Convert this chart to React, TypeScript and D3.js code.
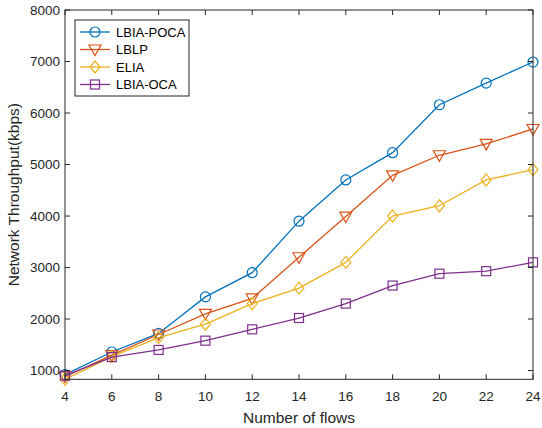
import React from "react";
import * as d3 from "d3";

const flows = [4, 6, 8, 10, 12, 14, 16, 18, 20, 22, 24];
const poca = [920, 1360, 1720, 2430, 2900, 3900, 4700, 5230, 6160, 6580, 6990];
const lblp = [880, 1300, 1700, 2100, 2400, 3200, 3990, 4790, 5180, 5400, 5690];
const elia = [830, 1270, 1640, 1900, 2300, 2600, 3100, 4000, 4200, 4700, 4900];
const oca = [900, 1260, 1400, 1580, 1800, 2020, 2300, 2650, 2880, 2930, 3100];
const yTicks = [1000, 2000, 3000, 4000, 5000, 6000, 7000, 8000];

const series = [
  { name: "LBIA-POCA", values: poca, color: "#0072BD", marker: "circle" },
  { name: "LBLP", values: lblp, color: "#D95319", marker: "triangle" },
  { name: "ELIA", values: elia, color: "#EDB120", marker: "diamond" },
  { name: "LBIA-OCA", values: oca, color: "#7E2F8E", marker: "square" },
];

const W = 542, H = 428;
const m = { top: 10, right: 8, bottom: 48, left: 65 };

function Marker({ type, x, y, color }: { type: string; x: number; y: number; color: string }) {
  const s = 5;
  if (type === "circle") return <circle cx={x} cy={y} r={s} fill="none" stroke={color} strokeWidth={1.2} />;
  if (type === "square") return <rect x={x - 4.5} y={y - 4.5} width={9} height={9} fill="none" stroke={color} strokeWidth={1.2} />;
  if (type === "diamond")
    return <path d={`M${x},${y - 6}L${x + 5},${y}L${x},${y + 6}L${x - 5},${y}Z`} fill="none" stroke={color} strokeWidth={1.2} />;
  return <path d={`M${x - 6},${y - 4.5}L${x + 6},${y - 4.5}L${x},${y + 6}Z`} fill="none" stroke={color} strokeWidth={1.2} />;
}

export default function App() {
  const x = d3.scaleLinear().domain([4, 24]).range([m.left, W - m.right - 1]);
  const y = d3.scaleLinear().domain([830, 8000]).range([H - m.bottom - 0.7, m.top]);
  const line = d3.line<number>().x((_, i) => x(flows[i])).y(d => y(d));
  const axis = "#262626";
  const font = "'Liberation Sans', Arial, sans-serif";
  const x0 = x(4), x1 = x(24), y0 = y(830), y1 = y(8000);

  return (
    <svg width={W} height={H} style={{ position: "absolute", left: 0, top: 0, background: "#fff" }} fontFamily={font}>
      <rect x={0} y={0} width={W} height={H} fill="#fff" />
      {series.map(s => (
        <g key={s.name}>
          <path d={line(s.values) || ""} fill="none" stroke={s.color} strokeWidth={1.3} />
          {s.values.map((v, i) => (
            <Marker key={i} type={s.marker} x={x(flows[i])} y={y(v)} color={s.color} />
          ))}
        </g>
      ))}
      <rect x={x0} y={y1} width={x1 - x0} height={y0 - y1} fill="none" stroke={axis} strokeWidth={1} />
      {flows.map(f => (
        <g key={f}>
          <line x1={x(f)} x2={x(f)} y1={y0} y2={y0 - 5} stroke={axis} />
          <line x1={x(f)} x2={x(f)} y1={y1} y2={y1 + 5} stroke={axis} />
          <text x={x(f)} y={y0 + 21.5} textAnchor="middle" fontSize={13.5} fill={axis}>{f}</text>
        </g>
      ))}
      {yTicks.map(t => (
        <g key={t}>
          <line x1={x0} x2={x0 + 5} y1={y(t)} y2={y(t)} stroke={axis} />
          <line x1={x1} x2={x1 - 5} y1={y(t)} y2={y(t)} stroke={axis} />
          <text x={x0 - 5} y={y(t) + 4.8} textAnchor="end" fontSize={13.5} fill={axis}>{t}</text>
        </g>
      ))}
      <text x={(x0 + x1) / 2} y={H - 5.5} textAnchor="middle" fontSize={15.5} fill={axis}>Number of flows</text>
      <text transform={`translate(19,${(y0 + y1) / 2}) rotate(-90)`} textAnchor="middle" fontSize={15.5} fill={axis}>
        Network Throughput(kbps)
      </text>
      <rect x={75} y={20} width={114} height={76} fill="#fff" stroke={axis} strokeWidth={1} />
      {series.map((s, i) => {
        const ly = 32 + i * 17.5;
        return (
          <g key={s.name}>
            <line x1={80} x2={110} y1={ly} y2={ly} stroke={s.color} strokeWidth={1.3} />
            <Marker type={s.marker} x={95} y={ly} color={s.color} />
            <text x={116} y={ly + 4.5} fontSize={13} fill="#000">{s.name}</text>
          </g>
        );
      })}
    </svg>
  );
}
